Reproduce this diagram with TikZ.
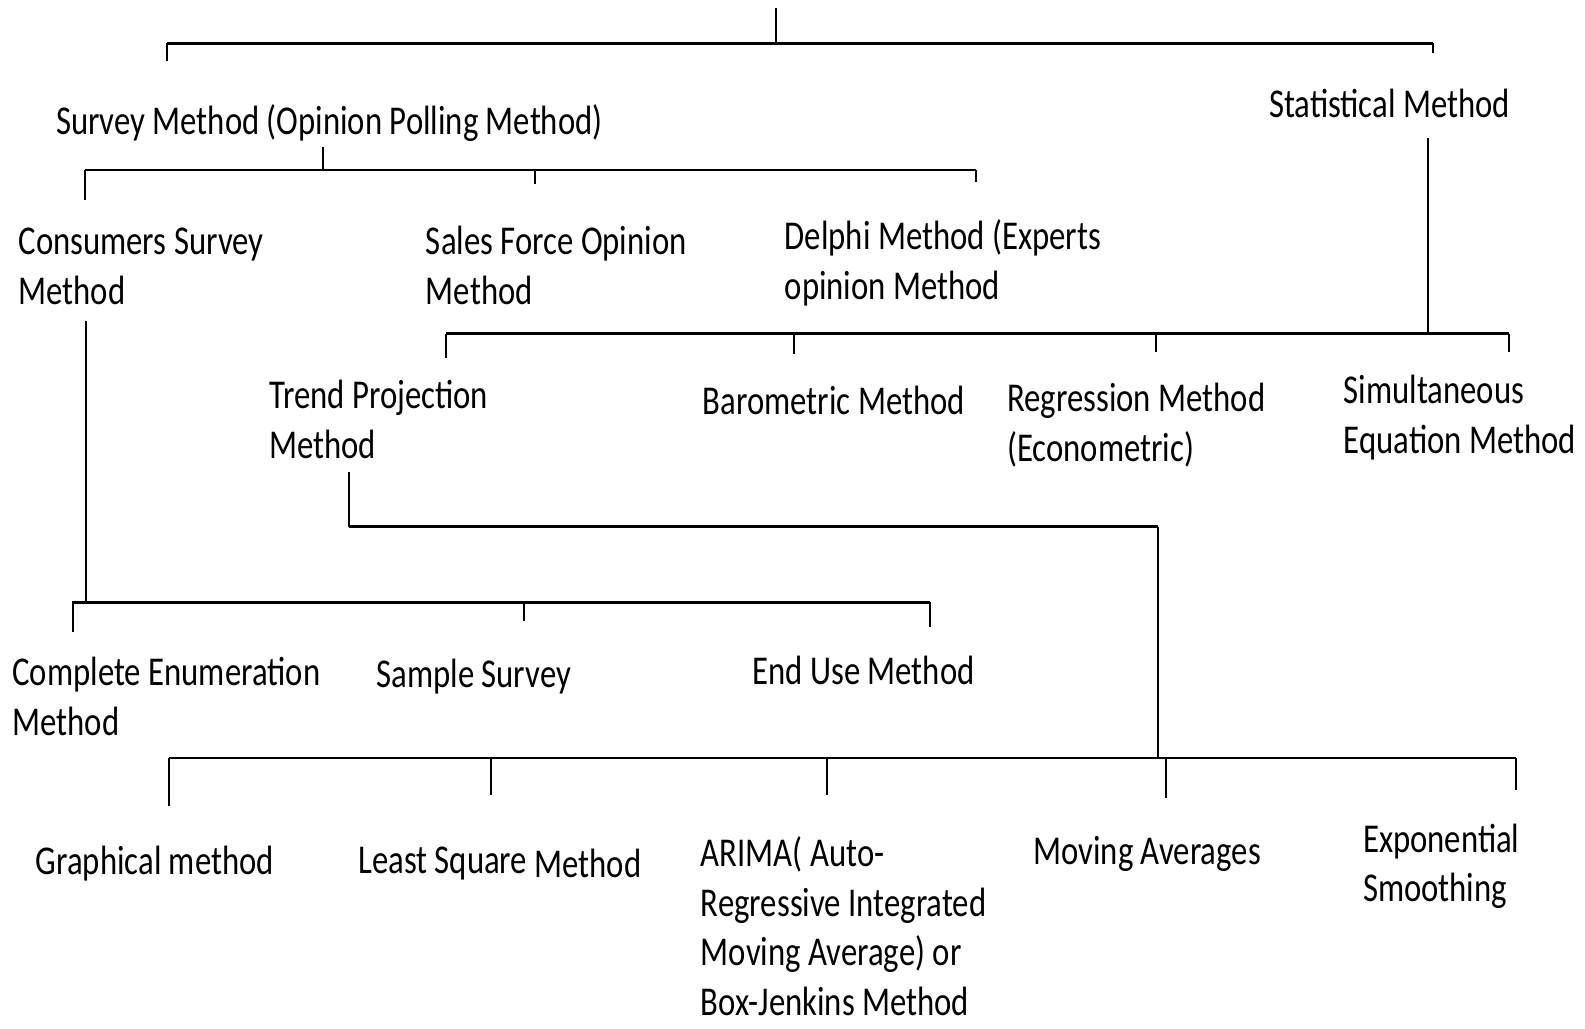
\documentclass[tikz,border=0pt]{standalone}
\usepackage{fontspec}
\setmainfont{Carlito}
\usepackage{graphicx}
\newcommand\lbl[1]{\scalebox{1}[1.25]{\vtop{\baselineskip=19.7pt\lineskiplimit=-10pt\halign{##\hfil\cr #1\crcr}}}}
\begin{document}
\begin{tikzpicture}[x=0.5pt,y=-0.5pt,
  wire/.style={line width=1pt,black},
  bus/.style={line width=1.3pt,black},
  txt/.style={anchor=base west,inner sep=0pt,font=\fontsize{16.2}{20}\selectfont}]
\fill[white] (0,0) rectangle (1568,1017);
\useasboundingbox (0,0) rectangle (1568,1017);

% labels
\node[txt] (stat) at (1255,116) {\lbl{Statistical Method}};
\node[txt] (survey) at (55,133) {\lbl{Survey Method (Opinion Polling Method)}};
\node[txt] (cons) at (18,252) {\lbl{Consumers Survey\cr Method}};
\node[txt] (sales) at (421,252) {\lbl{Sales Force Opinion\cr Method}};
\node[txt] (delphi) at (776,247) {\lbl{Delphi Method (Experts\cr opinion Method}};
\node[txt] (trend) at (266,404) {\lbl{Trend Projection\cr Method}};
\node[txt] (baro) at (695,410) {\lbl{Barometric Method}};
\node[txt] (regr) at (996,407) {\lbl{Regression Method\cr (Econometric)}};
\node[txt] (simu) at (1329,399) {\lbl{Simultaneous\cr Equation Method}};
\node[txt] (comp) at (12,678) {\lbl{Complete Enumeration\cr Method}};
\node[txt] (samp) at (372,680) {\lbl{Sample Survey}};
\node[txt] (enduse) at (744,677) {\lbl{End Use Method}};
\node[txt] (graph) at (35,865) {\lbl{Graphical method}};
\node[txt] (lsq) at (354,864) {\lbl{Least Square \raisebox{-1.5pt}{Method}}};
\node[txt] (arima) at (693,857) {\lbl{ARIMA( Auto-\cr Regressive Integrated\cr Moving Average) or\cr Box-Jenkins Method}};
\node[txt] (mavg) at (1022,855) {\lbl{Moving Averages}};
\node[txt] (expo) at (1348,843) {\lbl{Exponential\cr Smoothing}};

% level 1
\coordinate (rootT) at (768,8);
\coordinate (rootJ) at (768,43);
\coordinate (busAl) at (165,43);
\coordinate (busAr) at (1418,43);
\coordinate (dropSurvey) at (165,60);
\coordinate (dropStat) at (1418,52);
\draw[wire] (rootT) -- (rootJ);
\draw[bus] (busAl) -- (busAr);
\draw[wire] (busAl) -- (dropSurvey);
\draw[wire] (busAr) -- (dropStat);

% survey children
\coordinate (svT) at (320,145);
\coordinate (svJ) at (320,168);
\coordinate (busBl) at (84,168);
\coordinate (busBr) at (966,168);
\coordinate (dCons) at (84,198);
\coordinate (jSales) at (529,168);
\coordinate (dSales) at (529,182);
\coordinate (dDelphi) at (966,180);
\draw[wire] (svT) -- (svJ);
\draw[bus] (busBl) -- (busBr);
\draw[wire] (busBl) -- (dCons);
\draw[wire] (jSales) -- (dSales);
\draw[wire] (busBr) -- (dDelphi);

% statistical children
\coordinate (stT) at (1413,137);
\coordinate (stJ) at (1413,330);
\coordinate (busCl) at (441,330);
\coordinate (busCr) at (1493,330);
\coordinate (dTrend) at (441,354);
\coordinate (jBaro) at (785,330);
\coordinate (dBaro) at (785,350);
\coordinate (jRegr) at (1144,330);
\coordinate (dRegr) at (1144,348);
\coordinate (dSimu) at (1493,348);
\draw[wire] (stT) -- (stJ);
\draw[bus] (busCl) -- (busCr);
\draw[wire] (busCl) -- (dTrend);
\draw[wire] (jBaro) -- (dBaro);
\draw[wire] (jRegr) -- (dRegr);
\draw[wire] (busCr) -- (dSimu);

% consumers survey children
\coordinate (csT) at (85,318);
\coordinate (csJ) at (85,596);
\coordinate (busDl) at (71,596);
\coordinate (busDr) at (920,596);
\coordinate (jComp) at (72,596);
\coordinate (dComp) at (72,625);
\coordinate (jSamp) at (518,596);
\coordinate (dSamp) at (518,614);
\coordinate (dEnd) at (920,620);
\draw[wire] (csT) -- (csJ);
\draw[bus] (busDl) -- (busDr);
\draw[wire] (jComp) -- (dComp);
\draw[wire] (jSamp) -- (dSamp);
\draw[wire] (busDr) -- (dEnd);

% trend projection children
\coordinate (tpT) at (345,467);
\coordinate (tpK) at (345,521);
\coordinate (tpK2) at (1146,521);
\coordinate (tpJ) at (1146,750);
\coordinate (busEl) at (167,750);
\coordinate (busEr) at (1500,750);
\coordinate (dGraph) at (167,797);
\coordinate (jLsq) at (486,750);
\coordinate (dLsq) at (486,786);
\coordinate (jArima) at (818,750);
\coordinate (dArima) at (818,786);
\coordinate (jMavg) at (1153,750);
\coordinate (dMavg) at (1153,789);
\coordinate (dExpo) at (1500,782);
\draw[wire] (tpT) -- (tpK);
\draw[bus] (tpK) -- (tpK2);
\draw[wire] (tpK2) -- (tpJ);
\draw[bus] (busEl) -- (busEr);
\draw[wire] (busEl) -- (dGraph);
\draw[wire] (jLsq) -- (dLsq);
\draw[wire] (jArima) -- (dArima);
\draw[wire] (jMavg) -- (dMavg);
\draw[wire] (busEr) -- (dExpo);
\end{tikzpicture}
\end{document}
